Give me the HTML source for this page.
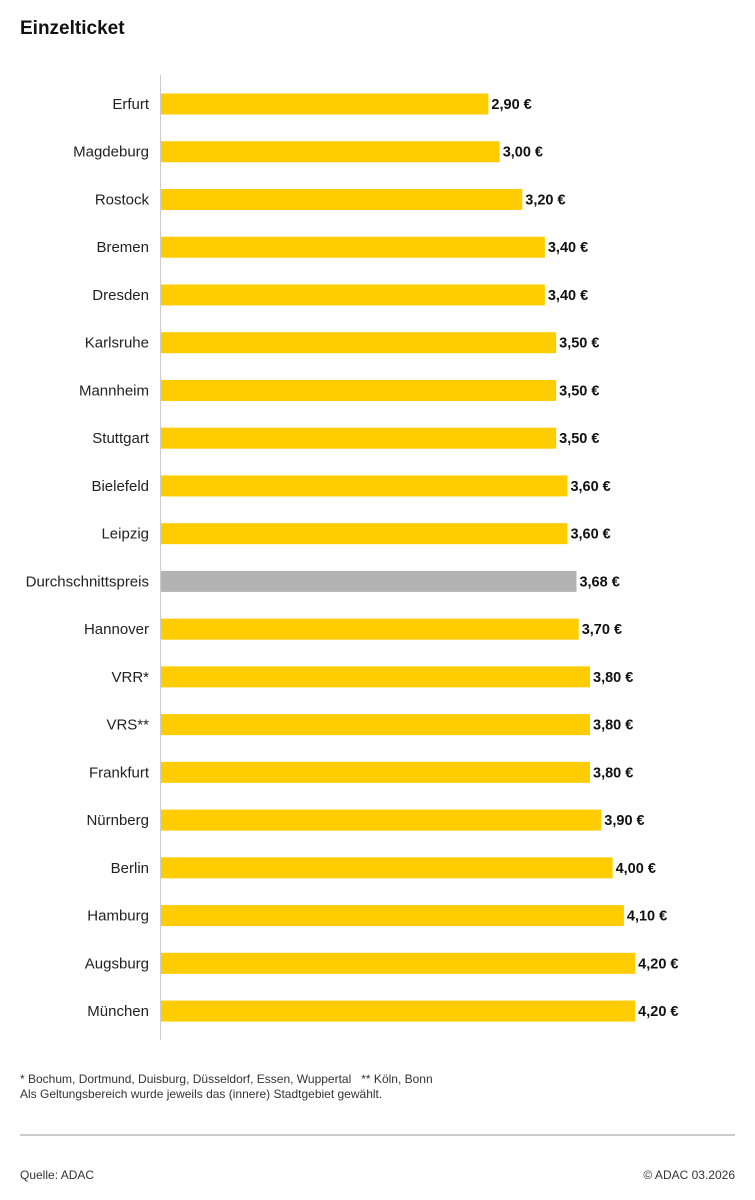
<!DOCTYPE html>
<html><head><meta charset="utf-8"><style>
body{margin:0;background:#fff;font-family:"Liberation Sans",sans-serif;color:#111}
#wrap{position:relative;width:755px;height:1200px;overflow:hidden}
.t{position:absolute;white-space:nowrap}
</style></head><body>
<div id="wrap">
<div class="t" style="left:20px;top:18px;font-size:19px;font-weight:bold">Einzelticket</div>
<svg id="chart" width="755" height="1060" style="position:absolute;left:0;top:0"></svg>
<div class="t" style="left:20px;top:1072px;font-size:12px;color:#333">* Bochum, Dortmund, Duisburg, Düsseldorf, Essen, Wuppertal &nbsp;&nbsp;** Köln, Bonn</div>
<div class="t" style="left:20px;top:1087px;font-size:12px;color:#333">Als Geltungsbereich wurde jeweils das (innere) Stadtgebiet gewählt.</div>
<div style="position:absolute;left:20px;top:1134px;width:715px;height:2px;background:#ccc"></div>
<div class="t" style="left:20px;top:1168px;font-size:12px;color:#333">Quelle: ADAC</div>
<div class="t" style="right:20px;top:1168px;font-size:12px;color:#333">© ADAC 03.2026</div>
</div>
<script>
const categories=["Erfurt","Magdeburg","Rostock","Bremen","Dresden","Karlsruhe","Mannheim","Stuttgart","Bielefeld","Leipzig","Durchschnittspreis","Hannover","VRR*","VRS**","Frankfurt","Nürnberg","Berlin","Hamburg","Augsburg","München"];
const values=[2.90,3.00,3.20,3.40,3.40,3.50,3.50,3.50,3.60,3.60,3.68,3.70,3.80,3.80,3.80,3.90,4.00,4.10,4.20,4.20];
const highlight=["Durchschnittspreis"];
const NS="http://www.w3.org/2000/svg";
const svg=document.getElementById('chart');
const x0=161,scale=112.9;
const xf=v=>x0+v*scale;
const yf=i=>104+i*47.74;
function mk(tag,attrs){const e=document.createElementNS(NS,tag);for(const k in attrs)e.setAttribute(k,attrs[k]);svg.appendChild(e);return e;}
const ax=mk('line',{x1:160.5,x2:160.5,y1:75,y2:1040,stroke:'#ccc','stroke-width':1});


categories.forEach((c,i)=>{
  const y=yf(i),v=values[i];
  const r=mk('rect',{x:x0,y:y-10.5,width:xf(v)-x0,height:21,fill:highlight.includes(c)?'#b3b3b3':'#ffcc00'});
  
  
  const l=mk('text',{x:149,y:y+5,'text-anchor':'end','font-size':15,fill:'#222','font-family':'Liberation Sans, sans-serif'});
  l.textContent=c;
  
  
  const t=mk('text',{x:xf(v)+3,y:y+5,'font-size':14.5,'font-weight':'bold',fill:'#111','font-family':'Liberation Sans, sans-serif'});
  t.textContent=v.toFixed(2).replace('.',',')+' €';
  
  
});
</script>
</body></html>
